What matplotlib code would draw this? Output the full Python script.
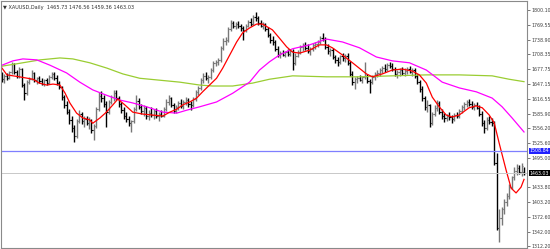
import numpy as np
import matplotlib
matplotlib.use("Agg")
import matplotlib.pyplot as plt

# XAUUSD daily bars (open, high, low, close)
opens = [1662, 1658, 1664, 1660, 1672, 1688, 1672, 1663, 1678, 1645,
         1628, 1652, 1658, 1670, 1655, 1660, 1654, 1648, 1656, 1650,
         1662, 1668, 1660, 1650, 1640, 1620, 1604, 1590, 1572, 1556,
         1540, 1570, 1585, 1570, 1574, 1566, 1572, 1552, 1560, 1596,
         1622, 1618, 1606, 1590, 1610, 1620, 1628, 1618, 1605, 1594,
         1582, 1575, 1566, 1570, 1596, 1612, 1600, 1592, 1598, 1582,
         1588, 1584, 1592, 1580, 1586, 1582, 1596, 1610, 1618, 1604,
         1592, 1600, 1608, 1602, 1610, 1614, 1606, 1604, 1616, 1630,
         1638, 1656, 1664, 1660, 1662, 1676, 1690, 1692, 1696, 1722,
         1736, 1738, 1760, 1774, 1768, 1772, 1766, 1762, 1758, 1768,
         1776, 1772, 1786, 1784, 1774, 1768, 1772, 1760, 1748, 1738,
         1734, 1720, 1708, 1712, 1708, 1714, 1710, 1716, 1690, 1706,
         1714, 1724, 1728, 1722, 1716, 1720, 1728, 1730, 1734, 1742,
         1740, 1724, 1716, 1718, 1702, 1696, 1692, 1704, 1700, 1706,
         1690, 1668, 1652, 1658, 1660, 1656, 1662, 1664, 1654, 1652,
         1662, 1668, 1670, 1676, 1680, 1678, 1686, 1684, 1678, 1668,
         1672, 1676, 1670, 1674, 1678, 1672, 1676, 1664, 1652, 1636,
         1618, 1600, 1604, 1566, 1586, 1598, 1608, 1590, 1580, 1576,
         1582, 1578, 1574, 1584, 1580, 1592, 1600, 1606, 1610, 1606,
         1600, 1604, 1598, 1586, 1566, 1556, 1572, 1568, 1566, 1484,
         1350, 1370, 1388, 1404, 1416, 1434, 1454, 1468, 1474, 1466,
         1465.73]
highs = [1672, 1668, 1670, 1675, 1693, 1690, 1676, 1682, 1680, 1650,
         1655, 1662, 1676, 1672, 1662, 1664, 1660, 1658, 1660, 1665,
         1672, 1671, 1666, 1653, 1644, 1625, 1612, 1596, 1580, 1562,
         1575, 1593, 1590, 1580, 1582, 1578, 1575, 1565, 1600, 1630,
         1632, 1625, 1612, 1615, 1624, 1635, 1634, 1622, 1610, 1600,
         1590, 1580, 1572, 1600, 1624, 1618, 1606, 1604, 1602, 1594,
         1600, 1596, 1598, 1590, 1594, 1600, 1616, 1624, 1620, 1608,
         1604, 1612, 1616, 1614, 1620, 1618, 1612, 1620, 1634, 1642,
         1660, 1670, 1672, 1666, 1680, 1694, 1697, 1700, 1726, 1742,
         1744, 1765, 1779, 1778, 1776, 1778, 1772, 1766, 1772, 1780,
         1784, 1790, 1796, 1788, 1780, 1776, 1774, 1764, 1752, 1746,
         1738, 1726, 1716, 1718, 1716, 1720, 1718, 1720, 1712, 1718,
         1728, 1732, 1734, 1730, 1724, 1732, 1734, 1738, 1746, 1753,
         1744, 1730, 1722, 1722, 1708, 1702, 1708, 1712, 1710, 1712,
         1694, 1674, 1662, 1664, 1666, 1664, 1693, 1668, 1658, 1666,
         1672, 1676, 1680, 1684, 1688, 1690, 1693, 1690, 1682, 1676,
         1680, 1682, 1680, 1682, 1684, 1680, 1680, 1668, 1656, 1642,
         1622, 1614, 1606, 1590, 1604, 1614, 1612, 1596, 1588, 1586,
         1590, 1584, 1588, 1590, 1596, 1604, 1610, 1614, 1616, 1612,
         1608, 1610, 1604, 1592, 1572, 1578, 1580, 1576, 1570, 1505,
         1388, 1392, 1410, 1422, 1440, 1458, 1476, 1482, 1480, 1484,
         1476.56]
lows = [1652, 1650, 1655, 1657, 1668, 1668, 1660, 1660, 1640, 1614,
        1625, 1648, 1655, 1652, 1648, 1650, 1645, 1644, 1646, 1648,
        1658, 1656, 1646, 1636, 1615, 1598, 1585, 1565, 1548, 1527,
        1536, 1566, 1565, 1558, 1562, 1555, 1545, 1531, 1556, 1592,
        1610, 1600, 1558, 1585, 1605, 1612, 1614, 1600, 1588, 1575,
        1568, 1560, 1548, 1566, 1592, 1596, 1585, 1580, 1575, 1572,
        1578, 1574, 1576, 1570, 1578, 1578, 1592, 1604, 1600, 1587,
        1588, 1594, 1598, 1596, 1604, 1600, 1594, 1600, 1612, 1624,
        1634, 1650, 1655, 1650, 1658, 1672, 1684, 1686, 1692, 1718,
        1728, 1734, 1756, 1762, 1760, 1763, 1756, 1738, 1754, 1764,
        1768, 1770, 1778, 1770, 1764, 1760, 1756, 1744, 1732, 1728,
        1716, 1702, 1700, 1704, 1702, 1706, 1704, 1676, 1686, 1702,
        1710, 1716, 1718, 1712, 1708, 1716, 1720, 1724, 1730, 1736,
        1720, 1710, 1706, 1698, 1690, 1684, 1688, 1694, 1692, 1686,
        1664, 1646, 1637, 1650, 1654, 1650, 1658, 1650, 1629, 1648,
        1656, 1662, 1664, 1670, 1672, 1674, 1680, 1674, 1664, 1660,
        1664, 1666, 1664, 1668, 1670, 1664, 1660, 1648, 1630, 1612,
        1594, 1590, 1558, 1562, 1580, 1592, 1586, 1574, 1568, 1570,
        1572, 1567, 1570, 1576, 1576, 1588, 1594, 1600, 1602, 1596,
        1594, 1596, 1580, 1560, 1546, 1552, 1564, 1560, 1480, 1345,
        1321, 1355, 1378, 1394, 1410, 1430, 1448, 1460, 1462, 1458,
        1459.36]
closes = [1658, 1664, 1660, 1672, 1688, 1672, 1663, 1678, 1645, 1628,
          1652, 1658, 1670, 1655, 1660, 1654, 1648, 1656, 1650, 1662,
          1668, 1660, 1650, 1640, 1620, 1604, 1590, 1572, 1556, 1540,
          1570, 1585, 1570, 1574, 1566, 1572, 1552, 1560, 1596, 1622,
          1618, 1606, 1590, 1610, 1620, 1628, 1618, 1605, 1594, 1582,
          1575, 1566, 1570, 1596, 1612, 1600, 1592, 1598, 1582, 1588,
          1584, 1592, 1580, 1586, 1582, 1596, 1610, 1618, 1604, 1592,
          1600, 1608, 1602, 1610, 1614, 1606, 1604, 1616, 1630, 1638,
          1656, 1664, 1660, 1662, 1676, 1690, 1692, 1696, 1722, 1736,
          1738, 1760, 1774, 1768, 1772, 1766, 1762, 1758, 1768, 1776,
          1772, 1786, 1784, 1774, 1768, 1772, 1760, 1748, 1738, 1734,
          1720, 1708, 1712, 1708, 1714, 1710, 1716, 1690, 1706, 1714,
          1724, 1728, 1722, 1716, 1720, 1728, 1730, 1734, 1742, 1740,
          1724, 1716, 1718, 1702, 1696, 1692, 1704, 1700, 1706, 1690,
          1668, 1652, 1658, 1660, 1656, 1662, 1664, 1654, 1652, 1662,
          1668, 1670, 1676, 1680, 1678, 1686, 1684, 1678, 1668, 1672,
          1676, 1670, 1674, 1678, 1672, 1676, 1664, 1652, 1636, 1618,
          1600, 1604, 1566, 1586, 1598, 1608, 1590, 1580, 1576, 1582,
          1578, 1574, 1584, 1580, 1592, 1600, 1606, 1610, 1606, 1600,
          1604, 1598, 1586, 1566, 1556, 1572, 1568, 1566, 1484, 1350,
          1370, 1388, 1404, 1416, 1434, 1454, 1468, 1474, 1466, 1478,
          1463.03]

# moving averages read at a few bar positions (bar index, price)
ma_fast_x = [0, 2, 7, 12.5, 15, 18, 20.5, 23.3, 25.3, 27.3, 30, 32.5, 35.3, 36.5,
             39.4, 42, 44.6, 46.6, 49.4, 52.6, 56.6, 60.6, 64.7, 67.5, 70.3, 72.7,
             75.5, 78.3, 80.7, 83.5, 86.3, 88.8, 91.6, 94.4, 96.8, 99.6, 102.4,
             104.8, 108.8, 111.6, 114.5, 116.9, 119.7, 123.7, 127.7, 130.5, 132.9,
             137, 141, 146.6, 149, 153, 157, 161, 165, 167.9, 170.7, 173.1, 175.9,
             178.7, 181.1, 183.9, 187.9, 190.8, 193.2, 196, 198, 200, 202.8, 204.8,
             206.8, 208.8, 210]
ma_fast_y = [1680, 1666, 1662, 1657, 1649, 1645, 1647, 1645, 1629, 1608, 1587, 1577,
             1573, 1566, 1577, 1589, 1604, 1616, 1604, 1589, 1585, 1583, 1581, 1589,
             1595, 1604, 1610, 1618, 1631, 1645, 1659, 1680, 1707, 1734, 1753, 1763,
             1771, 1771, 1759, 1742, 1724, 1713, 1711, 1717, 1728, 1728, 1722, 1707,
             1691, 1668, 1662, 1668, 1676, 1678, 1674, 1666, 1649, 1620, 1600, 1583,
             1579, 1583, 1598, 1602, 1598, 1583, 1567, 1525, 1469, 1432, 1422, 1434,
             1450]
ma_mid_x = [0, 4.4, 8.4, 14, 19.3, 26, 31.3, 36.5, 42, 47.4, 52.6, 58.2, 64.7, 70.3,
            74.3, 79.5, 86.3, 92.8, 99.6, 103.6, 107.6, 111.6, 116.9, 123.7, 130.5,
            137, 143.8, 150.6, 157, 163.9, 170.7, 177.1, 184, 190.8, 197.2, 201.2,
            205.2, 210]
ma_mid_y = [1686, 1695, 1699, 1697, 1686, 1670, 1651, 1635, 1624, 1614, 1608, 1600,
            1589, 1587, 1593, 1600, 1610, 1628, 1651, 1676, 1693, 1707, 1720, 1728,
            1740, 1734, 1722, 1703, 1695, 1691, 1676, 1651, 1639, 1631, 1618, 1600,
            1577, 1548]
ma_slow_x = [0, 7.2, 15.3, 23.3, 28.5, 35.3, 42.2, 48.6, 55.4, 63.5, 71.5, 79.5,
             84.7, 92.8, 100.8, 107.6, 116.9, 130.5, 143.8, 157, 170.7, 184, 197.2,
             204, 210]
ma_slow_y = [1684, 1690, 1697, 1701, 1699, 1691, 1680, 1668, 1659, 1655, 1651, 1645,
             1643, 1643, 1649, 1657, 1664, 1662, 1662, 1664, 1666, 1666, 1664, 1657,
             1652]

level_line = 1508.84
last_price = 1463.03
tick_labels = ["1800.10", "1769.55", "1738.90", "1708.35", "1677.75", "1647.15",
               "1616.55", "1585.90", "1556.20", "1525.60", "1495.00", "1433.80",
               "1403.20", "1372.60", "1342.00", "1312.20"]
header = "XAUUSD,Daily  1465.73 1476.56 1459.36 1463.03"

############################## plot ##########################################
fig = plt.figure(figsize=(5.5, 2.49), dpi=100)
ax = fig.add_axes([1 / 550, 1 / 249, 526 / 550, 247 / 249])

n = len(closes)
x = np.arange(n)
up = np.array(closes) >= np.array(opens)
cols = np.where(up, '#777777', '#000000')

ax.vlines(x, lows, highs, colors=cols, linewidth=1.0)
ax.hlines(opens, x - 0.5, x, colors=cols, linewidth=0.8)
ax.hlines(closes, x, x + 0.5, colors=cols, linewidth=0.8)

ax.plot(ma_slow_x, ma_slow_y, color='#9acd32', lw=0.9)
ax.plot(ma_mid_x, ma_mid_y, color='#ff00ff', lw=0.9)
ax.plot(ma_fast_x, ma_fast_y, color='#ff0000', lw=0.9)

ax.axhline(level_line, color='#7f7fff', lw=0.9)
ax.axhline(last_price, color='#c8c8c8', lw=0.7)

ax.set_xlim(-0.4, 211.2)
ax.set_ylim(1308.2, 1818.7)
ax.set_xticks([])

ax.yaxis.tick_right()
ax.set_yticks([float(t) for t in tick_labels])
ax.set_yticklabels(tick_labels)
ax.tick_params(axis='y', length=2, width=0.5, pad=1.2, labelsize=3.4,
               colors='#404040')
for s in ax.spines.values():
    s.set_color('#8a8a8a')
    s.set_linewidth(0.8)

# price boxes on the right scale
ax.text(1.005, level_line, '%.2f' % level_line, transform=ax.get_yaxis_transform(),
        fontsize=3.4, color='white', va='center', ha='left',
        bbox=dict(boxstyle='square,pad=0.15', fc='#2020ff', ec='none'))
ax.text(1.005, last_price, '%.2f' % last_price, transform=ax.get_yaxis_transform(),
        fontsize=3.4, color='white', va='center', ha='left',
        bbox=dict(boxstyle='square,pad=0.15', fc='#000000', ec='none'))

ax.text(0.004, 0.975, '\u25bc ' + header, transform=ax.transAxes, fontsize=3.6,
        color='#303030', va='center', ha='left')

fig.savefig('out.png', dpi=100)
